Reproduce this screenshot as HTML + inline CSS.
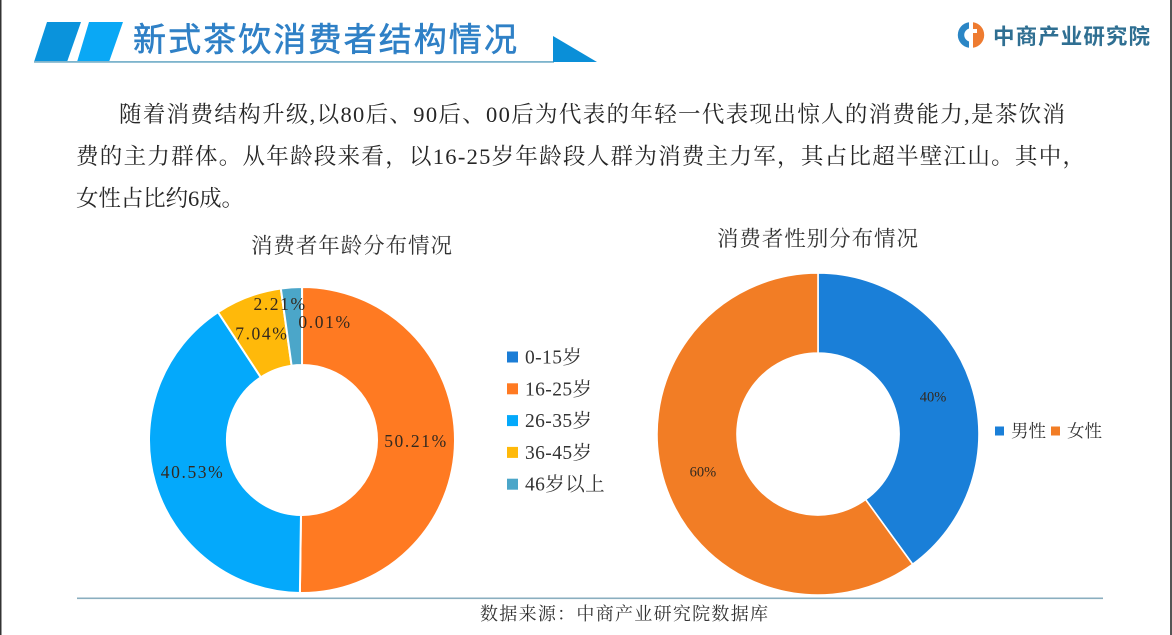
<!DOCTYPE html>
<html lang="zh-CN">
<head>
<meta charset="utf-8">
<title>新式茶饮消费者结构情况</title>
<style>
html,body{margin:0;padding:0;background:#fff;width:1172px;height:635px;overflow:hidden}
svg{display:block}
.serif{font-family:"Liberation Serif","Noto Serif CJK SC",serif}
.sans{font-family:"Liberation Sans","Noto Sans CJK SC",sans-serif}
</style>
</head>
<body>
<svg id="stage" width="1172" height="635" viewBox="0 0 1172 635" xmlns="http://www.w3.org/2000/svg">
  <rect x="0" y="0" width="1172" height="635" fill="#fff"/>
  <rect x="0" y="0" width="1.5" height="635" fill="#333"/>
  <rect x="1170" y="0" width="2" height="635" fill="#555"/>

  <g>
    <polygon points="47,22 81,22 67,62 34,62" fill="#0a93dc"/>
    <polygon points="89,22 123,22 109,62 77,62" fill="#0aa8f5"/>
    <rect x="34" y="61" width="520" height="1.8" fill="#7db4cc"/>
    <polygon points="553,36 597,62 553,62" fill="#0a8fd8"/>
    <text class="sans" x="133" y="51" font-size="33" fill="#2f80c6" stroke="#2f80c6" stroke-width="0.6" textLength="384" lengthAdjust="spacing">新式茶饮消费者结构情况</text>
  </g>

  <g>
    <path d="M969 22.3 A12.8 12.8 0 0 0 969 47.7 L969 41.5 A6.8 6.8 0 0 1 969 28.5 Z" fill="#2b86c5"/>
    <path d="M973 22.3 A12.8 12.8 0 0 1 973 47.7 L973 33 L977 33 L977 29 L973 29 Z" fill="#ee7b30"/>
    <text class="sans" x="993" y="44" font-size="21.5" font-weight="700" fill="#2f6f92" textLength="157" lengthAdjust="spacing">中商产业研究院</text>
  </g>

  <g class="serif" font-size="22.5" fill="#262626">
    <text x="119" y="122" textLength="946" lengthAdjust="spacing">随着消费结构升级,以80后、90后、00后为代表的年轻一代表现出惊人的消费能力,是茶饮消</text>
    <text x="76" y="164" textLength="1009" lengthAdjust="spacing">费的主力群体。从年龄段来看，以16-25岁年龄段人群为消费主力军，其占比超半壁江山。其中，</text>
    <text x="76" y="206" textLength="168" lengthAdjust="spacing">女性占比约6成。</text>
  </g>

  <text class="serif" x="251" y="253" font-size="21.5" fill="#333" textLength="201" lengthAdjust="spacing">消费者年龄分布情况</text>
  <text class="serif" x="717" y="246" font-size="21.5" fill="#333" textLength="201" lengthAdjust="spacing">消费者性别分布情况</text>

  <g id="age-donut"></g>
  <g id="gender-donut"></g>
  <g id="age-legend"></g>
  <g id="gender-legend"></g>

  <rect x="77" y="597.5" width="1026" height="1.6" fill="#8aaebf"/>
  <text class="serif" x="480" y="620" font-size="18" fill="#333" textLength="288" lengthAdjust="spacing">数据来源：中商产业研究院数据库</text>
</svg>

<script>
const ageCategories = ['0-15岁', '16-25岁', '26-35岁', '36-45岁', '46岁以上'];
const ageValues = [0.01, 50.21, 40.53, 7.04, 2.21];
const ageLabels = ['0.01%', '50.21%', '40.53%', '7.04%', '2.21%'];
const ageColors = ['#1b7dd6', '#ff7a22', '#04a9fb', '#ffb90a', '#4ba6c9'];

const genderCategories = ['男性', '女性'];
const genderValues = [40, 60];
const genderLabels = ['40%', '60%'];
const genderColors = ['#1a7fd8', '#f27d25'];

const SVG_NS = 'http://www.w3.org/2000/svg';

function angleAt(cumulative, total) {
  return cumulative / total * Math.PI * 2;
}
function polar(cx, cy, r, angle) {
  return [cx + r * Math.sin(angle), cy - r * Math.cos(angle)];
}
function slicePath(cx, cy, rOuter, rInner, a0, a1) {
  const large = a1 - a0 > Math.PI ? 1 : 0;
  const p0 = polar(cx, cy, rOuter, a0);
  const p1 = polar(cx, cy, rOuter, a1);
  const p2 = polar(cx, cy, rInner, a1);
  const p3 = polar(cx, cy, rInner, a0);
  return 'M' + p0[0] + ' ' + p0[1] +
    'A' + rOuter + ' ' + rOuter + ' 0 ' + large + ' 1 ' + p1[0] + ' ' + p1[1] +
    'L' + p2[0] + ' ' + p2[1] +
    'A' + rInner + ' ' + rInner + ' 0 ' + large + ' 0 ' + p3[0] + ' ' + p3[1] + 'Z';
}

function drawDonut(hostId, cfg) {
  const host = document.getElementById(hostId);
  const total = cfg.values.reduce(function (s, v) { return s + v; }, 0);
  const midR = (cfg.rOuter + cfg.rInner) / 2;
  const spans = [];
  let cum = 0;
  cfg.values.forEach(function (v, i) {
    const a0 = angleAt(cum, total);
    const a1 = angleAt(cum + v, total);
    cum += v;
    spans.push((a0 + a1) / 2);

    const path = document.createElementNS(SVG_NS, 'path');
    path.setAttribute('d', slicePath(cfg.cx, cfg.cy, cfg.rOuter, cfg.rInner, a0, a1));
    path.setAttribute('fill', cfg.colors[i]);
    path.setAttribute('stroke', '#fff');
    path.setAttribute('stroke-width', cfg.gap);
    
    
    host.appendChild(path);
  });

  cfg.labels.forEach(function (labelText, i) {
    const mid = polar(cfg.cx, cfg.cy, midR, spans[i]);
    const nudge = cfg.nudges[i] || [0, 0];
    const text = document.createElementNS(SVG_NS, 'text');
    text.setAttribute('x', mid[0] + nudge[0]);
    text.setAttribute('y', mid[1] + nudge[1] + cfg.fontSize * 0.34);
    text.setAttribute('text-anchor', 'middle');
    text.setAttribute('class', 'serif');
    text.setAttribute('font-size', cfg.fontSize);
    text.setAttribute('letter-spacing', cfg.spacing);
    text.setAttribute('fill', '#33291f');
    
    
    text.textContent = labelText;
    host.appendChild(text);
  });
}

drawDonut('age-donut', {
  prefix: 'age', cx: 302, cy: 440, rOuter: 153, rInner: 75, gap: 2,
  values: ageValues, labels: ageLabels, colors: ageColors,
  fontSize: 17.5, spacing: 1.6,
  nudges: [[23, -4], [0, 0], [0, 0], [0, 0], [-14, -22]]
});
drawDonut('gender-donut', {
  prefix: 'gender', cx: 818, cy: 434, rOuter: 161, rInner: 81, gap: 1.6,
  values: genderValues, labels: genderLabels, colors: genderColors,
  fontSize: 14.5, spacing: 0,
  nudges: [[0, 0], [0, 0]]
});

const ageLegendHost = document.getElementById('age-legend');
ageCategories.forEach(function (name, i) {
  const rowY = 357 + i * 31.8;
  const swatch = document.createElementNS(SVG_NS, 'rect');
  swatch.setAttribute('x', 507);
  swatch.setAttribute('y', rowY - 5.5);
  swatch.setAttribute('width', 11);
  swatch.setAttribute('height', 11);
  swatch.setAttribute('fill', ageColors[i]);
  
  
  ageLegendHost.appendChild(swatch);

  const label = document.createElementNS(SVG_NS, 'text');
  label.setAttribute('x', 525);
  label.setAttribute('y', rowY + 6.5);
  label.setAttribute('class', 'serif');
  label.setAttribute('font-size', 19.5);
  label.setAttribute('letter-spacing', 0.4);
  label.setAttribute('fill', '#333');
  
  
  label.textContent = name;
  ageLegendHost.appendChild(label);
});

const genderLegendHost = document.getElementById('gender-legend');
genderCategories.forEach(function (name, i) {
  const rowX = 995 + i * 56;
  const swatch = document.createElementNS(SVG_NS, 'rect');
  swatch.setAttribute('x', rowX);
  swatch.setAttribute('y', 426.5);
  swatch.setAttribute('width', 9);
  swatch.setAttribute('height', 9);
  swatch.setAttribute('fill', genderColors[i]);
  
  
  genderLegendHost.appendChild(swatch);

  const label = document.createElementNS(SVG_NS, 'text');
  label.setAttribute('x', rowX + 16);
  label.setAttribute('y', 437);
  label.setAttribute('class', 'serif');
  label.setAttribute('font-size', 17.5);
  label.setAttribute('fill', '#333');
  
  
  label.textContent = name;
  genderLegendHost.appendChild(label);
});
</script>
</body>
</html>
